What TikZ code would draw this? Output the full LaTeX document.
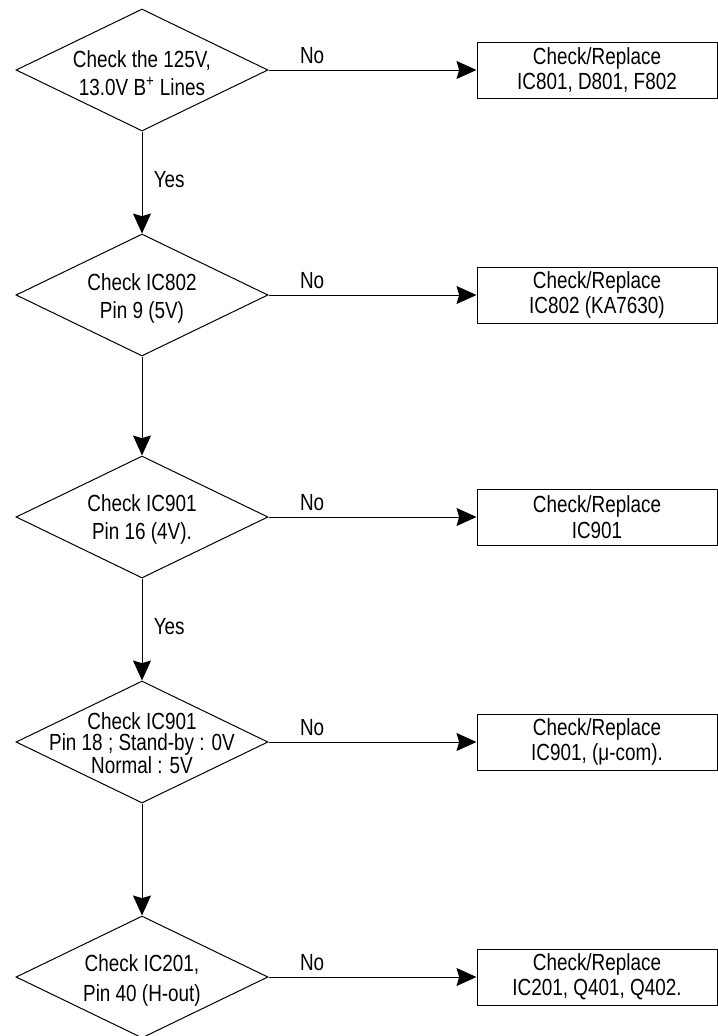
\documentclass[tikz,border=0pt]{standalone}
\usepackage{fontspec}
\setmainfont[FakeStretch=0.81]{Liberation Sans}
\usetikzlibrary{shapes.geometric,arrows.meta}

\begin{document}
\begin{tikzpicture}[x=0.75pt,y=-0.75pt,
  cond/.style={draw,diamond,inner sep=0pt,minimum width=189pt,minimum height=91.5pt,line width=0.75pt},
  condtext/.style={align=center,inner sep=0pt,font=\fontsize{17.5}{21}\selectfont},
  fixbox/.style={draw,rectangle,inner sep=0pt,minimum width=180pt,minimum height=42pt,align=center,line width=0.75pt,font=\fontsize{17.5}{19}\selectfont},
  lbl/.style={inner sep=0pt,font=\fontsize{17.5}{21}\selectfont},
  arr/.style={line width=0.75pt,-{Stealth[length=15pt,width=13.5pt,inset=2pt]}}]
  \useasboundingbox (0,0) rectangle (718,1036);
  % decisions
  \node[cond] (q1) at (142,70) {};
  \node[condtext] (q1t) at (142,73) {Check the 125V,\\13.0V B\textsuperscript{+} Lines};
  \node[cond] (q2) at (142,295) {};
  \node[condtext] (q2t) at (142,298) {Check IC802\\Pin 9 (5V)};
  \node[cond] (q3) at (142,517) {};
  \node[condtext] (q3t) at (142,519) {Check IC901\\Pin 16 (4V).};
  \node[cond] (q4) at (142,742) {};
  \node[condtext,font=\fontsize{17.5}{16}\selectfont] (q4t) at (142,743) {Check IC901\\Pin 18 ; Stand-by : 0V\\Normal : 5V};
  \node[cond] (q5) at (142,977) {};
  \node[condtext,font=\fontsize{17.5}{22.5}\selectfont] (q5t) at (142,980) {Check IC201,\\Pin 40 (H-out)};
  % replace boxes
  \node[fixbox] (r1) at (597,70) {Check/Replace\\IC801, D801, F802};
  \node[fixbox] (r2) at (597,295) {Check/Replace\\IC802 (KA7630)};
  \node[fixbox] (r3) at (597,517) {Check/Replace\\IC901};
  \node[fixbox] (r4) at (597,742) {Check/Replace\\IC901, (μ-com).};
  \node[fixbox] (r5) at (597,977) {Check/Replace\\IC201, Q401, Q402.};
  % no branches
  \foreach \i in {1,...,5}
    \draw[arr] (q\i.east) -- node[lbl,pos=0.21,anchor=south,yshift=4.5pt] (no\i) {No} (r\i.west);
  % yes branches
  \draw[arr] (q1.south) -- node[lbl,pos=0.47,anchor=west,xshift=8.5pt] (yes1) {Yes} (q2.north);
  \draw[arr] (q2.south) -- (q3.north);
  \draw[arr] (q3.south) -- node[lbl,pos=0.47,anchor=west,xshift=8.5pt] (yes3) {Yes} (q4.north);
  \draw[arr] (q4.south) -- (q5.north);
\end{tikzpicture}
\end{document}
